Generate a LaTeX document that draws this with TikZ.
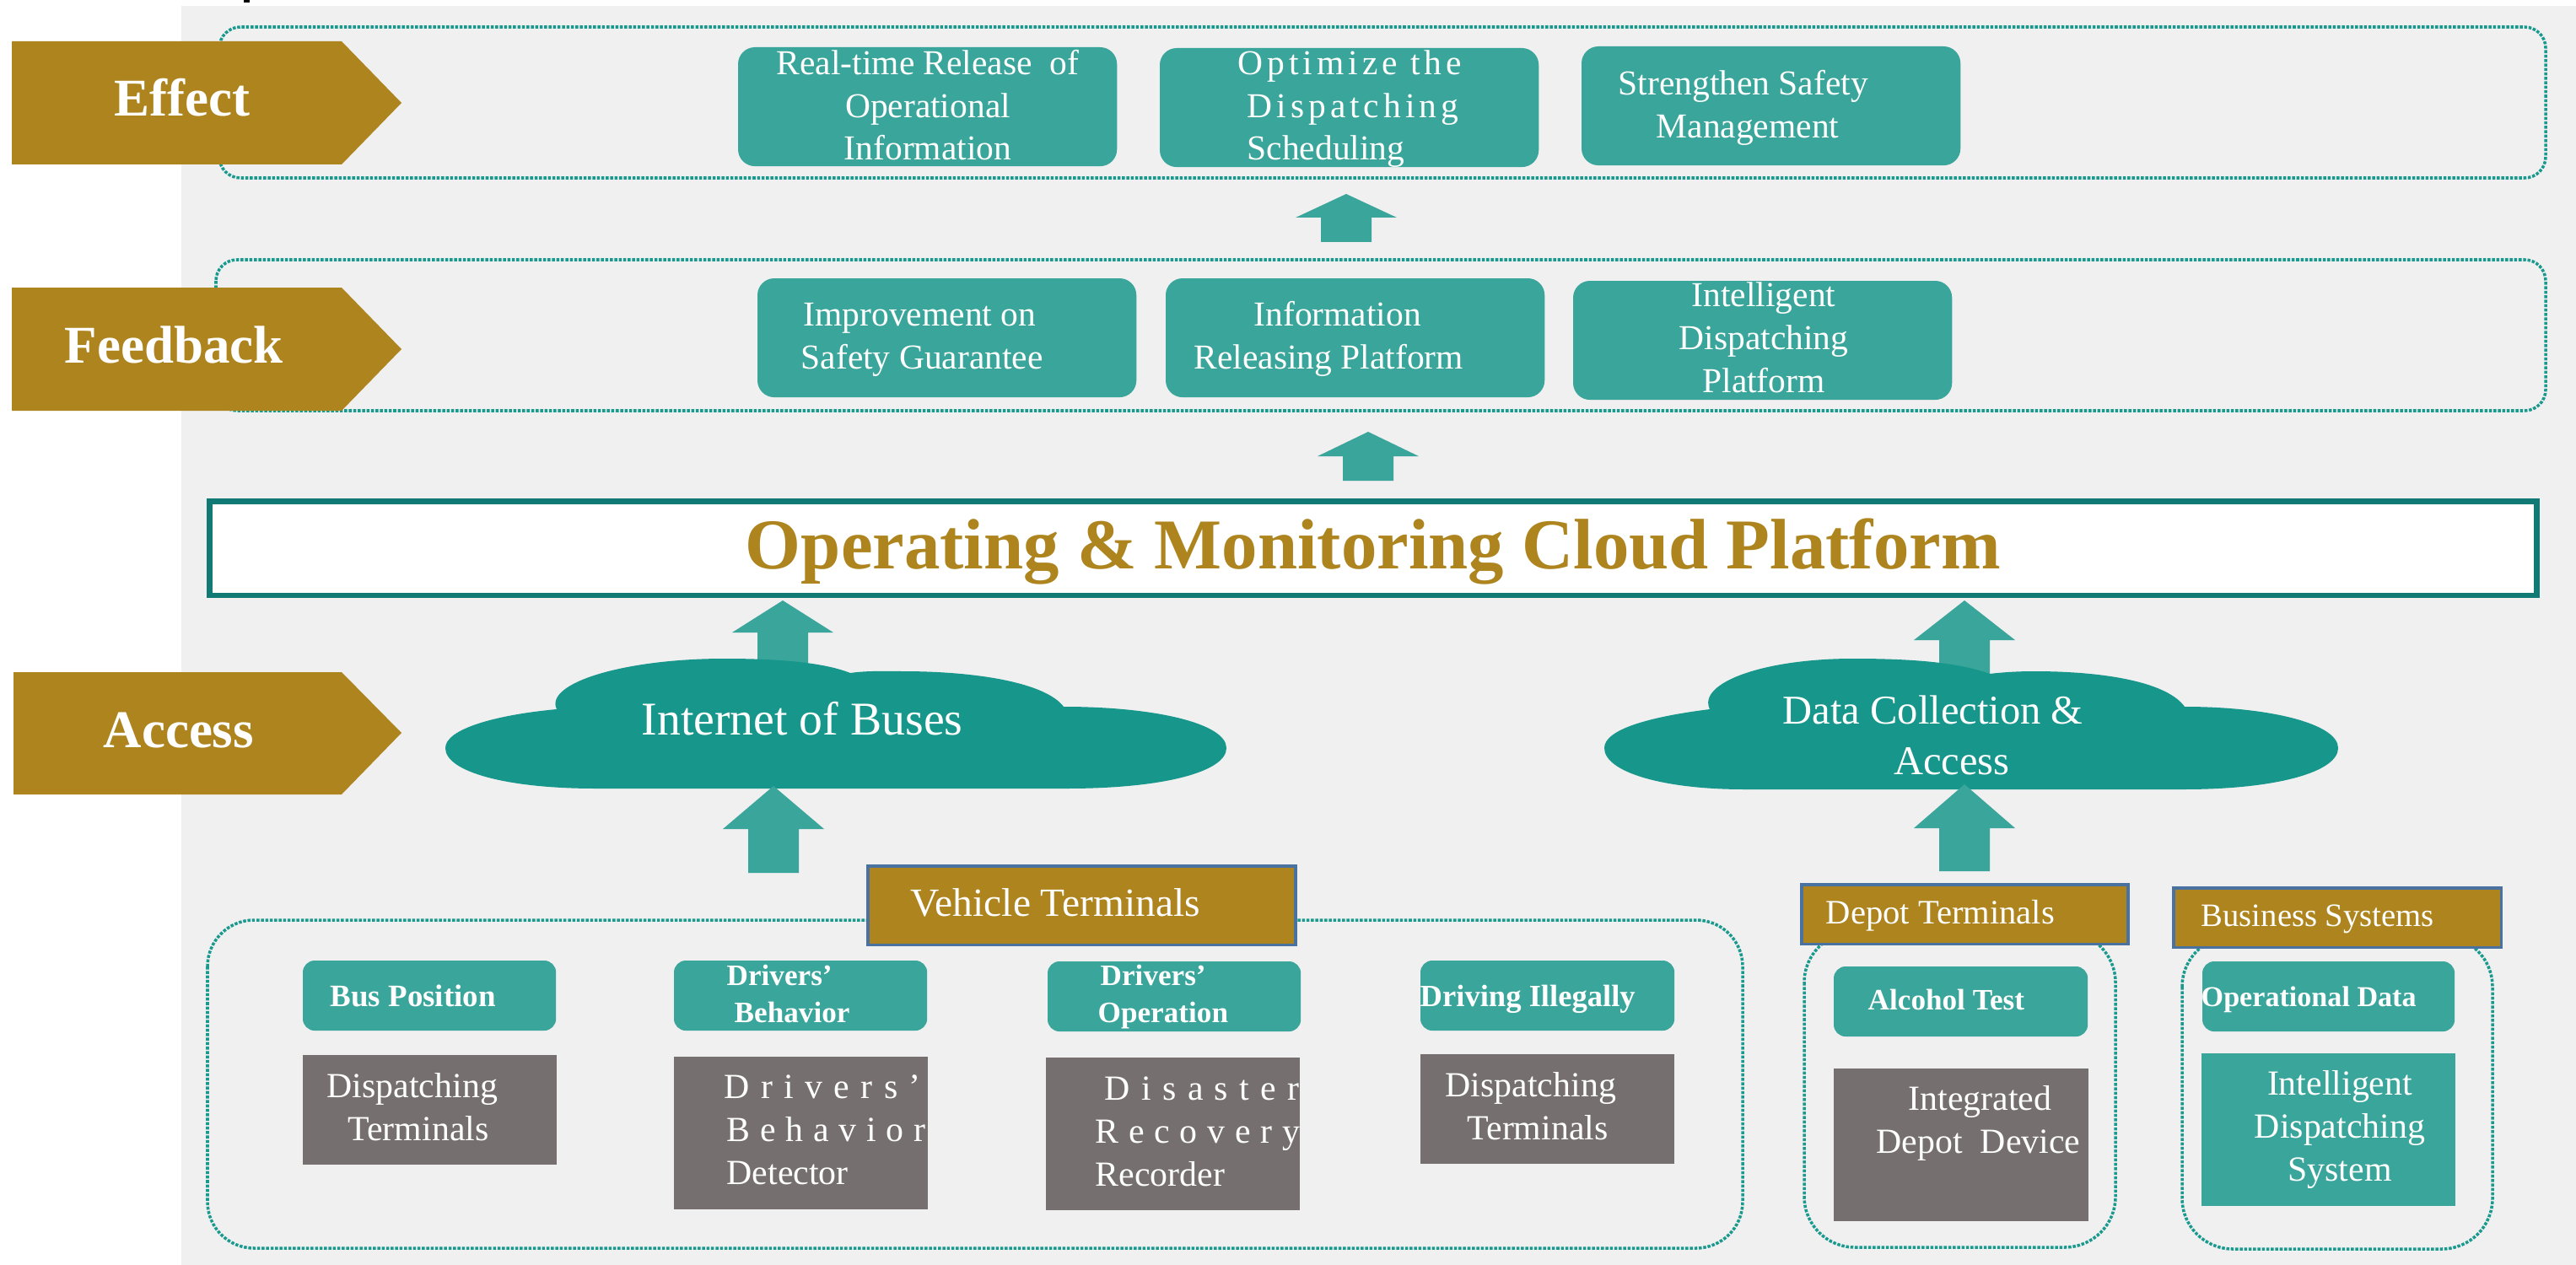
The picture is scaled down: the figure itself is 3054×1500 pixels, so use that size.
\documentclass[tikz,border=0pt]{standalone}
\usepackage{fontspec}
\setmainfont{Liberation Serif}
\newfontfamily\wideFont[LetterSpace=32]{Liberation Serif}
\newfontfamily\midFont[LetterSpace=28]{Liberation Serif}
\newfontfamily\looseFont[LetterSpace=12]{Liberation Serif}

\definecolor{goldBrown}{HTML}{AE841E}
\definecolor{boxTeal}{HTML}{3AA59B}
\definecolor{cloudTeal}{HTML}{17968B}
\definecolor{lineTeal}{HTML}{1A9A8E}
\definecolor{platformTeal}{HTML}{127A74}
\definecolor{deviceGray}{HTML}{766F6F}
\definecolor{panelGray}{HTML}{F0F0F0}
\definecolor{labelBlue}{HTML}{4A72A0}

\tikzset{
	layerFrame/.style={draw=lineTeal, line width=1pt, dash pattern=on 1pt off 0.5pt, rounded corners=#1},
	layerFrame/.default=0.25cm,
	tealBox/.style={fill=boxTeal, rounded corners=0.2cm, anchor=north west, inner sep=0pt, outer sep=0pt},
	smallBox/.style={tealBox, rounded corners=0.14cm},
	deviceBox/.style={fill=deviceGray, anchor=north west, inner sep=0pt, outer sep=0pt},
	systemBox/.style={fill=boxTeal, anchor=north west, inner sep=0pt, outer sep=0pt},
	groupBox/.style={fill=goldBrown, draw=labelBlue, line width=1pt, anchor=north west, inner sep=0pt},
	boxText/.style={text=white, inner sep=0pt, anchor=base west, align=left, font=\fontsize{11.8pt}{14.5pt}\selectfont},
	midText/.style={boxText, anchor=base, align=center},
	boldText/.style={boxText, font=\fontsize{10pt}{12.5pt}\selectfont\bfseries},
	deviceText/.style={boxText, font=\fontsize{11.9pt}{14.4pt}\selectfont},
	layerText/.style={boxText, font=\fontsize{17.9pt}{20pt}\selectfont\bfseries},
}

\begin{document}
\begin{tikzpicture}[x=0.01cm, y=-0.01cm]

	\useasboundingbox (0, 0) rectangle (3054, 1500);

	% Gray panel
	\fill[panelGray] (215, 7) rectangle (3054, 1500);
	\fill[black] (289, 0) rectangle (296, 3);

	% Dotted layer frames
	\draw[layerFrame] (260, 32) rectangle (3018, 211);
	\draw[layerFrame] (256, 308) rectangle (3018, 487);
	\draw[layerFrame=0.55cm] (246, 1091) rectangle (2066, 1480);
	\draw[layerFrame=0.6cm] (2139, 1105) rectangle (2508, 1479);
	\draw[layerFrame=0.6cm] (2587, 1110) rectangle (2955, 1481);

	% Layer tags
	\foreach \top/\tip/\bottom/\left in {49/122/195/14, 341/414/487/14, 797/869/942/16}
		\fill[goldBrown] (\left, \top) -- (405, \top) -- (476, \tip) -- (405, \bottom) -- (\left, \bottom) -- cycle;
	\node[layerText] (effectTag) at (135, 138) {Effect};
	\node[layerText] (feedbackTag) at (76, 430) {Feedback};
	\node[layerText] (accessTag) at (122, 886) {Access};

	% Block arrows behind the clouds
	\foreach \cx/\tip/\shoulder/\bottom in {1596/230/258/287, 1622/512/541/570, 928/712/750/800, 2329/712/759/810}
		\fill[boxTeal] (\cx, \tip) -- (\cx + 60, \shoulder) -- (\cx + 30, \shoulder) -- (\cx + 30, \bottom) -- (\cx - 30, \bottom) -- (\cx - 30, \shoulder) -- (\cx - 60, \shoulder) -- cycle;

	% Clouds
	\fill[cloudTeal] (706, 935) .. controls (600, 935) and (528, 915) .. (528, 887)
		.. controls (528, 865) and (585, 848) .. (660, 841)
		.. controls (645, 810) and (740, 781) .. (859, 781)
		.. controls (920, 781) and (975, 785) .. (1008, 798)
		.. controls (1030, 795) and (1050, 796) .. (1070, 796)
		.. controls (1160, 796) and (1240, 810) .. (1261, 838)
		.. controls (1370, 838) and (1454, 858) .. (1454, 887)
		.. controls (1454, 915) and (1380, 935) .. (1265, 935) -- cycle;
	\fill[cloudTeal] (2068, 936) .. controls (1970, 936) and (1902, 915) .. (1902, 887)
		.. controls (1902, 865) and (1955, 850) .. (2027, 841)
		.. controls (2012, 810) and (2090, 781) .. (2197, 781)
		.. controls (2265, 781) and (2320, 785) .. (2359, 799)
		.. controls (2375, 797) and (2395, 796) .. (2411, 796)
		.. controls (2500, 796) and (2570, 810) .. (2590, 838)
		.. controls (2690, 838) and (2772, 858) .. (2772, 887)
		.. controls (2772, 915) and (2700, 936) .. (2589, 936) -- cycle;
	\node[boxText, font=\fontsize{15.85pt}{18pt}\selectfont] (internetBuses) at (760, 871) {Internet of Buses};
	\node[boxText, font=\fontsize{13.8pt}{17pt}\selectfont] (dataAccess) at (2113, 918) {Data Collection \&\\\hspace*{1.315cm}Access};

	% Block arrows in front of the clouds
	\foreach \cx/\tip/\shoulder/\bottom in {917/932/983/1035, 2329/930/982/1033}
		\fill[boxTeal] (\cx, \tip) -- (\cx + 60, \shoulder) -- (\cx + 30, \shoulder) -- (\cx + 30, \bottom) -- (\cx - 30, \bottom) -- (\cx - 30, \shoulder) -- (\cx - 60, \shoulder) -- cycle;

	% Platform bar
	\node[draw=platformTeal, line width=0.065cm, fill=white, anchor=north west, inner sep=0pt, minimum width=27.575cm, minimum height=1.115cm, text height=0.66cm, text depth=0.18cm, text=goldBrown, font=\fontsize{24.1pt}{28pt}\selectfont\bfseries] (cloudPlatform) at (245, 591) {Operating \& Monitoring Cloud Platform};

	% Effect layer
	\node[tealBox, minimum width=4.49cm, minimum height=1.41cm] (releaseBox) at (875, 56) {};
	\node[tealBox, minimum width=4.49cm, minimum height=1.41cm] (optimizeBox) at (1375, 57) {};
	\node[tealBox, minimum width=4.49cm, minimum height=1.41cm] (strengthenBox) at (1875, 55) {};
	\node[midText] (releaseText) at (1100, 190) {Real-time Release\ \ of\\Operational\\Information};
	\node[boxText] (optimizeText) at (1467, 190) {{\looseFont Optimize the}\\\hspace*{0.11cm}{\looseFont Dispatching}\\\hspace*{0.11cm}Scheduling};
	\node[boxText] (strengthenText) at (1918, 163) {Strengthen Safety\\\hspace*{0.45cm}Management};

	% Feedback layer
	\node[tealBox, minimum width=4.49cm, minimum height=1.41cm] (safetyBox) at (898, 330) {};
	\node[tealBox, minimum width=4.49cm, minimum height=1.41cm] (releasingBox) at (1382, 330) {};
	\node[tealBox, minimum width=4.49cm, minimum height=1.41cm] (dispatchBox) at (1865, 333) {};
	\node[boxText] (safetyText) at (949, 437) {\hspace*{0.03cm}Improvement on\\Safety Guarantee};
	\node[boxText] (releasingText) at (1415, 437) {\hspace*{0.71cm}Information\\Releasing Platform};
	\node[midText] (dispatchText) at (2091, 465) {Intelligent\\Dispatching\\Platform};

	% Group labels
	\node[groupBox, minimum width=5.07cm, minimum height=0.935cm] (vehicleLabel) at (1027, 1025) {};
	\node[groupBox, minimum width=3.87cm, minimum height=0.705cm] (depotLabel) at (2134, 1047) {};
	\node[groupBox, minimum width=3.885cm, minimum height=0.705cm] (businessLabel) at (2575, 1051) {};
	\node[boxText, font=\fontsize{13.5pt}{15pt}\selectfont] (vehicleText) at (1079, 1086) {Vehicle Terminals};
	\node[boxText, font=\fontsize{11.55pt}{14pt}\selectfont] (depotText) at (2164, 1095) {Depot Terminals};
	\node[boxText, font=\fontsize{11pt}{14pt}\selectfont] (businessText) at (2609, 1098) {Business Systems};

	% Terminal names
	\node[smallBox, minimum width=3cm, minimum height=0.83cm] (busBox) at (359, 1139) {};
	\node[smallBox, minimum width=3cm, minimum height=0.83cm] (behaviorBox) at (799, 1139) {};
	\node[smallBox, minimum width=3cm, minimum height=0.83cm] (operationBox) at (1242, 1140) {};
	\node[smallBox, minimum width=3.01cm, minimum height=0.83cm] (illegalBox) at (1684, 1139) {};
	\node[smallBox, minimum width=3.01cm, minimum height=0.83cm] (alcoholBox) at (2174, 1146) {};
	\node[smallBox, minimum width=2.99cm, minimum height=0.83cm] (dataBox) at (2611, 1140) {};
	\node[boldText, font=\fontsize{10.5pt}{12.5pt}\selectfont\bfseries] (busText) at (391, 1193) {Bus Position};
	\node[boldText] (behaviorText) at (861, 1212) {Drivers’\\\hspace*{0.09cm}Behavior};
	\node[boldText] (operationText) at (1301, 1212) {\hspace*{0.03cm}Drivers’\\Operation};
	\node[boldText, font=\fontsize{10.4pt}{12.5pt}\selectfont\bfseries] (illegalText) at (1683, 1193) {Driving Illegally};
	\node[boldText] (alcoholText) at (2214, 1197) {Alcohol Test};
	\node[boldText, font=\fontsize{9.7pt}{12.5pt}\selectfont\bfseries] (dataText) at (2609, 1193) {Operational Data};

	% Terminal devices
	\node[deviceBox, minimum width=3.01cm, minimum height=1.3cm] (terminalLeft) at (359, 1251) {};
	\node[deviceBox, minimum width=3.01cm, minimum height=1.81cm] (detectorBox) at (799, 1253) {};
	\node[deviceBox, minimum width=3.01cm, minimum height=1.81cm] (recorderBox) at (1240, 1254) {};
	\node[deviceBox, minimum width=3.01cm, minimum height=1.3cm] (terminalRight) at (1684, 1250) {};
	\node[deviceBox, minimum width=3.02cm, minimum height=1.81cm] (depotDevice) at (2174, 1267) {};
	\node[systemBox, minimum width=3.01cm, minimum height=1.81cm] (dispatchSystem) at (2610, 1249) {};
	\node[deviceText] (terminalLeftText) at (387, 1352) {Dispatching\\\hspace*{0.25cm}Terminals};
	\node[deviceText] (detectorText) at (858, 1404) {{\wideFont Drivers’}\\\hspace*{0.03cm}{\midFont Behavior}\\\hspace*{0.03cm}Detector};
	\node[deviceText] (recorderText) at (1298, 1406) {\hspace*{0.11cm}{\wideFont Disaster}\\{\midFont Recovery}\\Recorder};
	\node[deviceText] (terminalRightText) at (1713, 1351) {Dispatching\\\hspace*{0.26cm}Terminals};
	\node[deviceText] (depotDeviceText) at (2224, 1367) {\hspace*{0.38cm}Integrated\\Depot\ \ Device};
	\node[midText, font=\fontsize{11.9pt}{14.4pt}\selectfont] (dispatchSystemText) at (2774, 1400) {Intelligent\\Dispatching\\System};

\end{tikzpicture}
\end{document}
